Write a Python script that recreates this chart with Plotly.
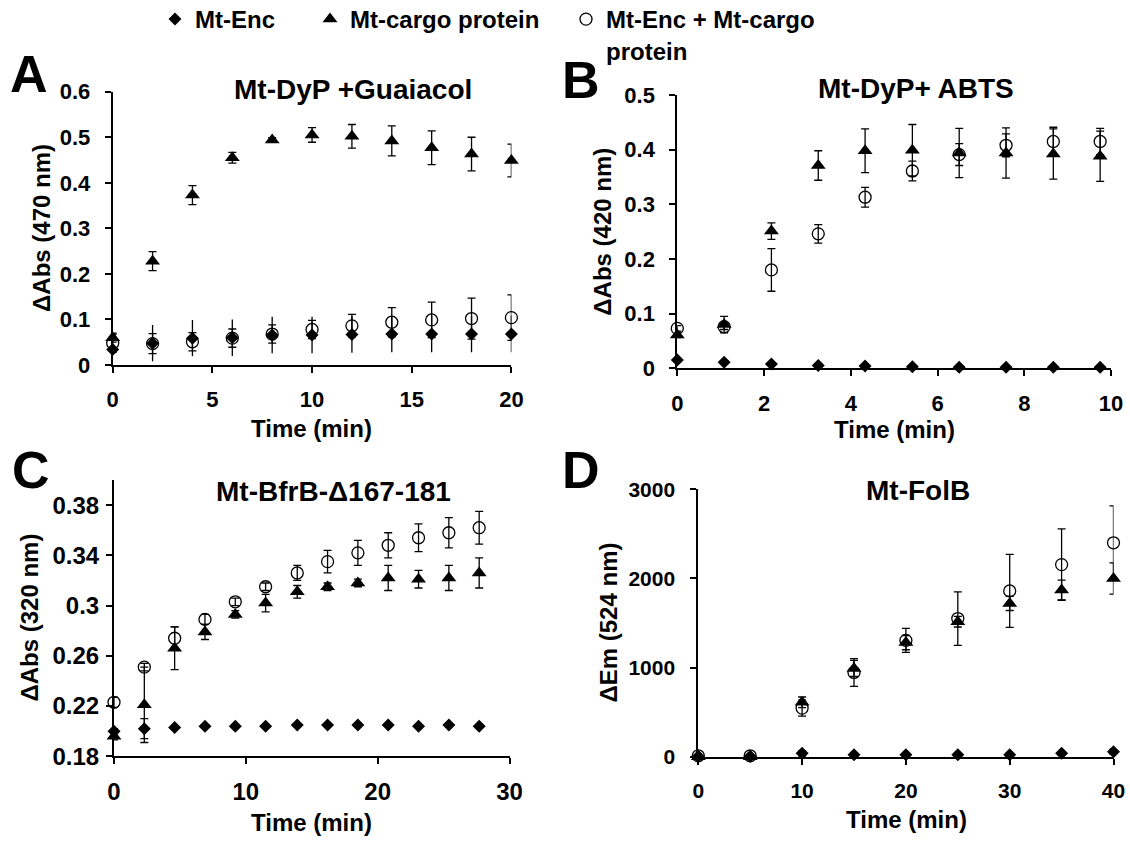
import plotly.graph_objects as go

W, H = 1130, 842

# ---------------- data ----------------
# Panel A: Mt-DyP + Guaiacol, ΔAbs at 470 nm
a_time = [0, 2, 4, 6, 8, 10, 12, 14, 16, 18, 20]
a_enc = [0.034, 0.048, 0.059, 0.060, 0.066, 0.066, 0.067, 0.068, 0.068, 0.068, 0.068]
a_enc_sd = [0.01, 0.04, 0.04, 0.04, 0.04, 0.04, 0.04, 0.04, 0.04, 0.04, 0.04]
a_cargo = [0.060, 0.228, 0.373, 0.455, 0.494, 0.505, 0.502, 0.492, 0.477, 0.463, 0.449]
a_cargo_sd = [0.01, 0.021, 0.021, 0.012, 0.005, 0.016, 0.026, 0.033, 0.037, 0.037, 0.036]
a_mix = [0.048, 0.047, 0.051, 0.059, 0.068, 0.078, 0.086, 0.094, 0.099, 0.102, 0.104]
a_mix_sd = [0.02, 0.022, 0.02, 0.02, 0.02, 0.02, 0.025, 0.032, 0.039, 0.045, 0.05]

# Panel B: Mt-DyP + ABTS, ΔAbs at 420 nm
b_time = [0, 1.08, 2.17, 3.25, 4.33, 5.42, 6.5, 7.58, 8.67, 9.75]
b_enc = [0.015, 0.011, 0.008, 0.005, 0.004, 0.003, 0.002, 0.002, 0.002, 0.002]
b_enc_sd = [0.003, 0.002, 0.002, 0.002, 0.002, 0.001, 0.001, 0.001, 0.001, 0.001]
b_cargo = [0.061, 0.080, 0.251, 0.371, 0.398, 0.399, 0.394, 0.394, 0.392, 0.388]
b_cargo_sd = [0.005, 0.015, 0.015, 0.027, 0.040, 0.047, 0.045, 0.046, 0.046, 0.046]
b_mix = [0.073, 0.076, 0.180, 0.246, 0.313, 0.361, 0.391, 0.408, 0.415, 0.415]
b_mix_sd = [0.005, 0.005, 0.039, 0.017, 0.018, 0.018, 0.020, 0.021, 0.026, 0.024]

# Panel C: Mt-BfrB-Δ167-181, ΔAbs at 320 nm
c_time = [0, 2.3, 4.6, 6.9, 9.2, 11.5, 13.9, 16.2, 18.5, 20.8, 23.1, 25.4, 27.7]
c_enc = [0.200, 0.202, 0.203, 0.204, 0.204, 0.204, 0.205, 0.205, 0.205, 0.205, 0.204, 0.205, 0.204]
c_enc_sd = [0.002, 0.008, 0.001, 0.001, 0.001, 0.001, 0.001, 0.001, 0.001, 0.001, 0.001, 0.001, 0.001]
c_cargo = [0.196, 0.221, 0.266, 0.279, 0.293, 0.302, 0.311, 0.315, 0.318, 0.322, 0.321, 0.322, 0.326]
c_cargo_sd = [0.003, 0.030, 0.017, 0.006, 0.003, 0.007, 0.005, 0.003, 0.003, 0.010, 0.007, 0.010, 0.012]
c_mix = [0.223, 0.251, 0.274, 0.289, 0.303, 0.315, 0.326, 0.335, 0.342, 0.348, 0.354, 0.358, 0.362]
c_mix_sd = [0.004, 0.003, 0.009, 0.004, 0.003, 0.003, 0.006, 0.009, 0.010, 0.010, 0.011, 0.012, 0.013]

# Panel D: Mt-FolB, ΔEm at 524 nm
d_time = [0, 5, 10, 15, 20, 25, 30, 35, 40]
d_enc = [5, 5, 38, 21, 21, 21, 21, 38, 56]
d_enc_sd = [5, 5, 30, 10, 10, 10, 10, 20, 30]
d_cargo = [0, 0, 610, 990, 1280, 1515, 1720, 1870, 2000]
d_cargo_sd = [10, 10, 60, 90, 80, 60, 80, 112, 175]
d_mix = [10, 10, 545, 945, 1305, 1550, 1860, 2155, 2400]
d_mix_sd = [10, 10, 90, 155, 135, 300, 410, 400, 415]

series_names = ["Mt-Enc", "Mt-cargo protein", "Mt-Enc + Mt-cargo<br>protein"]
panel_titles = ["Mt-DyP +Guaiacol", "Mt-DyP+ ABTS", "Mt-BfrB-\u0394167-181", "Mt-FolB"]
panel_letters = ["A", "B", "C", "D"]
y_titles = ["\u0394Abs (470 nm)", "\u0394Abs (420 nm)", "\u0394Abs (320 nm)", "\u0394Em (524 nm)"]
x_title = "Time (min)"

c_ticks = [0.18, 0.22, 0.26, 0.30, 0.34, 0.38]
c_ticktext = ["0.18", "0.22", "0.26", "0.3", "0.34", "0.38"]

# ---------------- styling ----------------
FONT = "Liberation Sans, Arial, sans-serif"
BLACK = "#000000"

def px_x(p):
    return p / W

def px_y(p):
    return 1 - p / H

styles = [
    dict(symbol="diamond", size=10, color=BLACK, line=dict(width=0)),
    dict(symbol="triangle-up", size=13, color=BLACK, line=dict(width=0)),
    dict(symbol="circle-open", size=12, color=BLACK, line=dict(width=1.3, color=BLACK)),
]
legend_ids = ["legend", "legend2", "legend3"]

panels = [
    (a_time, [(a_enc, a_enc_sd), (a_cargo, a_cargo_sd), (a_mix, a_mix_sd)]),
    (b_time, [(b_enc, b_enc_sd), (b_cargo, b_cargo_sd), (b_mix, b_mix_sd)]),
    (c_time, [(c_enc, c_enc_sd), (c_cargo, c_cargo_sd), (c_mix, c_mix_sd)]),
    (d_time, [(d_enc, d_enc_sd), (d_cargo, d_cargo_sd), (d_mix, d_mix_sd)]),
]

fig = go.Figure()

for pi, (t, groups) in enumerate(panels):
    suffix = "" if pi == 0 else str(pi + 1)
    for si, (vals, sd) in enumerate(groups):
        cap = 0 if (pi == 0 and si == 0) else 4
        fig.add_trace(go.Scatter(
            x=t, y=vals, mode="markers",
            name=series_names[si],
            legendgroup=series_names[si],
            legend=legend_ids[si],
            showlegend=(pi == 0),
            marker=styles[si],
            error_y=dict(type="data", array=sd, visible=True,
                         color=BLACK, thickness=1.3, width=cap),
            cliponaxis=False,
            xaxis="x" + suffix, yaxis="y" + suffix,
        ))

# plot-area boxes in pixels: (left, right, bottom, top)
boxes = [
    (112.7, 511.4, 365.0, 91.7),
    (677.3, 1111.0, 368.3, 95.0),
    (114.0, 509.5, 756.3, 480.0),
    (698.3, 1113.5, 756.7, 489.3),
]
x_ranges = [[0, 20], [0, 10], [0, 30], [0, 40]]
x_dticks = [5, 2, 10, 10]
y_ranges = [[0, 0.6], [0, 0.5], [0.18, 0.40], [0, 3000]]
y_dticks = [0.1, 0.1, 0.04, 1000]
y_standoff = [10, 10, 2, 11]
tick_sizes = [22, 22, 24, 21]

axis_common = dict(showline=True, linewidth=2, linecolor=BLACK, ticks="outside",
                   ticklen=6, tickwidth=2, tickcolor=BLACK, showgrid=False,
                   zeroline=False, fixedrange=True)

layout_axes = {}
for pi, (l, r, b, tp) in enumerate(boxes):
    suffix = "" if pi == 0 else str(pi + 1)
    tickfont = dict(family=FONT, size=tick_sizes[pi], color=BLACK, weight="bold")
    xa = dict(axis_common, domain=[px_x(l), px_x(r)], range=x_ranges[pi],
              dtick=x_dticks[pi], tick0=0, anchor="y" + suffix,
              ticklabelstandoff=8 if pi != 2 else 7, tickfont=tickfont)
    ya = dict(axis_common, domain=[px_y(b), px_y(tp)], range=y_ranges[pi],
              anchor="x" + suffix, ticklabelstandoff=y_standoff[pi],
              tickfont=tickfont)
    if pi == 2:
        ya.update(tickmode="array", tickvals=c_ticks, ticktext=c_ticktext)
    else:
        ya.update(dtick=y_dticks[pi], tick0=0)
    layout_axes["xaxis" + suffix] = xa
    layout_axes["yaxis" + suffix] = ya

annotations = []

def note(text, x, y, size, angle=0):
    annotations.append(dict(
        text=text, x=px_x(x), y=px_y(y), xref="paper", yref="paper",
        xanchor="center", yanchor="middle", showarrow=False, textangle=angle,
        font=dict(family=FONT, size=size, color=BLACK, weight="bold"),
    ))

title_pos = [(352.8, 89), (916, 88), (333.8, 491), (917.5, 490)]
letter_pos = [(28.5, 74), (581, 80), (30.5, 470), (581, 470)]
ytitle_pos = [(41.5, 228.4), (603, 231.7), (28.5, 618), (607.5, 623)]
xtitle_pos = [(311.9, 428), (894, 429), (311.7, 822), (906, 819)]

for pi in range(4):
    note(panel_titles[pi], *title_pos[pi], 28)
    note(panel_letters[pi], *letter_pos[pi], 52)
    note(y_titles[pi], *ytitle_pos[pi], 24, angle=-90)
    note(x_title, *xtitle_pos[pi], 24)

legend_font = dict(family=FONT, size=24, color=BLACK, weight="bold")
legend_common = dict(orientation="h", bgcolor="rgba(0,0,0,0)", borderwidth=0,
                     font=legend_font, xanchor="left", yanchor="top",
                     valign="top", itemclick=False, itemdoubleclick=False)
legend_left = [155, 310, 566]

fig.update_layout(
    width=W, height=H,
    margin=dict(l=0, r=0, t=0, b=0, autoexpand=False),
    paper_bgcolor="white", plot_bgcolor="white",
    font=dict(family=FONT, color=BLACK, weight="bold"),
    annotations=annotations,
    legend=dict(legend_common, x=px_x(legend_left[0]), y=px_y(-3)),
    legend2=dict(legend_common, x=px_x(legend_left[1]), y=px_y(-3)),
    legend3=dict(legend_common, x=px_x(legend_left[2]), y=px_y(-3)),
    **layout_axes,
)

fig.write_html("out.html")
